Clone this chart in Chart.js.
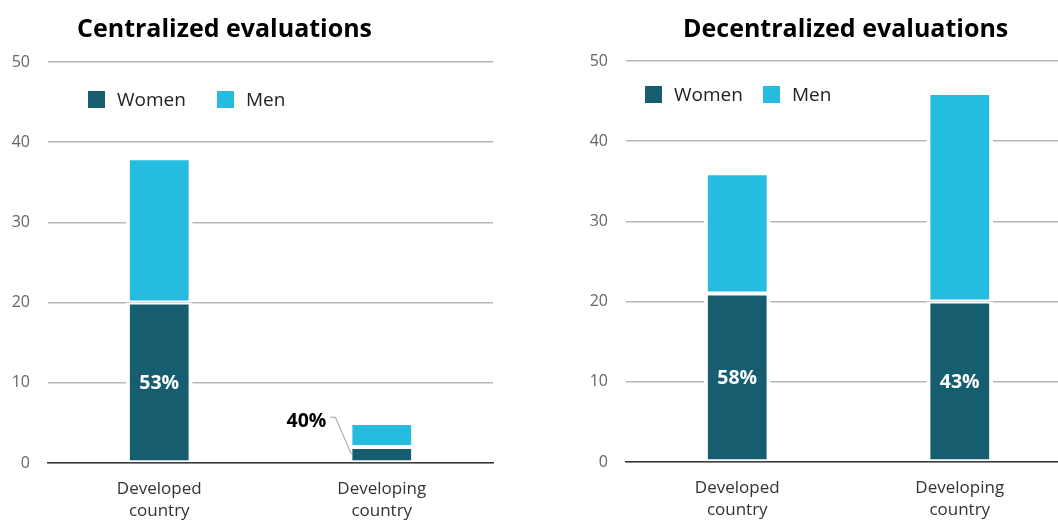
<!DOCTYPE html>
<html>
<head>
<meta charset="utf-8">
<script src="https://cdn.jsdelivr.net/npm/chart.js@4.4.1/dist/chart.umd.min.js"></script>
<style>
  html, body { margin: 0; padding: 0; background: #fff; }
  #wrap { position: relative; width: 1058px; height: 520px; overflow: hidden; font-family: "Open Sans", sans-serif; }
  .panel { position: absolute; top: 0; width: 500px; height: 520px; }
  .title { position: absolute; top: 10px; font-weight: 700; font-size: 25px; color: #000; white-space: nowrap; }
  .legend { position: absolute; display: flex; align-items: center; font-size: 19px; color: #222; }
  .legend .item { display: flex; align-items: center; }
  .legend .sw { width: 17px; height: 17px; display: inline-block; margin-right: 12px; }
</style>
</head>
<body>
<div id="wrap">
  <div class="panel" style="left:0px;"><canvas id="c1"></canvas></div>
  <div class="panel" style="left:578px; top:-1px;"><canvas id="c2"></canvas></div>
  <div class="title" id="t1" style="left:77px;"></div>
  <div class="title" id="t2" style="left:683px;"></div>
  <div class="legend" id="l1" style="left:88px; top:86px;"></div>
  <div class="legend" id="l2" style="left:645px; top:81px;"></div>
</div>
<script>
// ---- Data ----
const categories = [["Developed", "country"], ["Developing", "country"]];
const seriesNames = ["Women", "Men"];
const centralizedWomen = [20, 2];
const centralizedMen = [18, 3];
const decentralizedWomen = [21, 20];
const decentralizedMen = [15, 26];
const yTicks = [0, 10, 20, 30, 40, 50];
const panelTitles = ["Centralized evaluations", "Decentralized evaluations"];

const colors = ["#155d6f", "#25bce0"];

document.getElementById('t1').textContent = panelTitles[0];
document.getElementById('t2').textContent = panelTitles[1];

function buildLegend(id, gap) {
  const el = document.getElementById(id);
  seriesNames.forEach((n, i) => {
    const it = document.createElement('div');
    it.className = 'item';
    if (i > 0) it.style.marginLeft = gap + 'px';
    const sw = document.createElement('span');
    sw.className = 'sw';
    sw.style.background = colors[i];
    const tx = document.createElement('span');
    tx.textContent = n;
    it.appendChild(sw); it.appendChild(tx);
    el.appendChild(it);
  });
}
buildLegend('l1', 31);
buildLegend('l2', 20);

const pctPlugin = {
  id: 'pctLabels',
  afterDatasetsDraw(chart) {
    const ctx = chart.ctx;
    const w = chart.data.datasets[0].data;
    const m = chart.data.datasets[1].data;
    const meta = chart.getDatasetMeta(0);
    ctx.save();
    ctx.font = 'bold 19.5px "Open Sans", sans-serif';
    meta.data.forEach((bar, i) => {
      const pct = Math.round(w[i] / (w[i] + m[i]) * 100) + '%';
      const h = bar.base - bar.y;
      if (h > 40) {
        ctx.fillStyle = '#ffffff';
        ctx.textAlign = 'center';
        ctx.textBaseline = 'middle';
        ctx.fillText(pct, bar.x, (bar.y + bar.base) / 2 + 1);
      } else {
        const left = bar.x - bar.width / 2 + 4;
        const ly = bar.base - 43;
        ctx.fillStyle = '#000000';
        ctx.textAlign = 'right';
        ctx.textBaseline = 'middle';
        ctx.fillText(pct, left - 26, ly + 2);
        ctx.strokeStyle = '#999999';
        ctx.lineWidth = 1;
        ctx.beginPath();
        ctx.moveTo(left - 22, ly - 2);
        ctx.lineTo(left - 17, ly - 2);
        ctx.lineTo(left - 1, bar.base - 8);
        ctx.stroke();
      }
    });
    ctx.restore();
  }
};

function makeChart(id, women, men) {
  return new Chart(document.getElementById(id), {
    type: 'bar',
    data: {
      labels: categories,
      datasets: [
        { label: seriesNames[0], data: women, backgroundColor: colors[0] },
        { label: seriesNames[1], data: men, backgroundColor: colors[1] }
      ]
    },
    options: {
      responsive: true,
      maintainAspectRatio: false,
      animation: false,
      layout: { padding: { top: 62, right: 7, left: 0, bottom: 0 } },
      datasets: {
        bar: {
          categoryPercentage: 1,
          barPercentage: 0.3,
          borderColor: '#ffffff',
          borderWidth: { top: 2, bottom: 2, left: 4, right: 4 },
          borderSkipped: false
        }
      },
      plugins: { legend: { display: false }, tooltip: { enabled: false } },
      scales: {
        x: {
          stacked: true,
          z: 1,
          grid: { display: false, drawTicks: false },
          border: { display: true, color: '#333333', width: 1.5 },
          ticks: { color: '#333333', padding: 15, font: { family: '"Open Sans", sans-serif', size: 17, lineHeight: 1.3 } },
          afterFit(s) { s.height = 57; }
        },
        y: {
          stacked: true,
          min: 0, max: 50,
          afterBuildTicks(s) { s.ticks = yTicks.map(v => ({ value: v })); },
          grid: { color: '#b8b8b8', lineWidth: 1.5, drawTicks: false },
          border: { display: false },
          ticks: { color: '#666666', padding: 18, font: { family: '"Open Sans", sans-serif', size: 16 } },
          afterFit(s) { s.width = 48; }
        }
      }
    },
    plugins: [pctPlugin]
  });
}

makeChart('c1', centralizedWomen, centralizedMen);
makeChart('c2', decentralizedWomen, decentralizedMen);
</script>
</body>
</html>
